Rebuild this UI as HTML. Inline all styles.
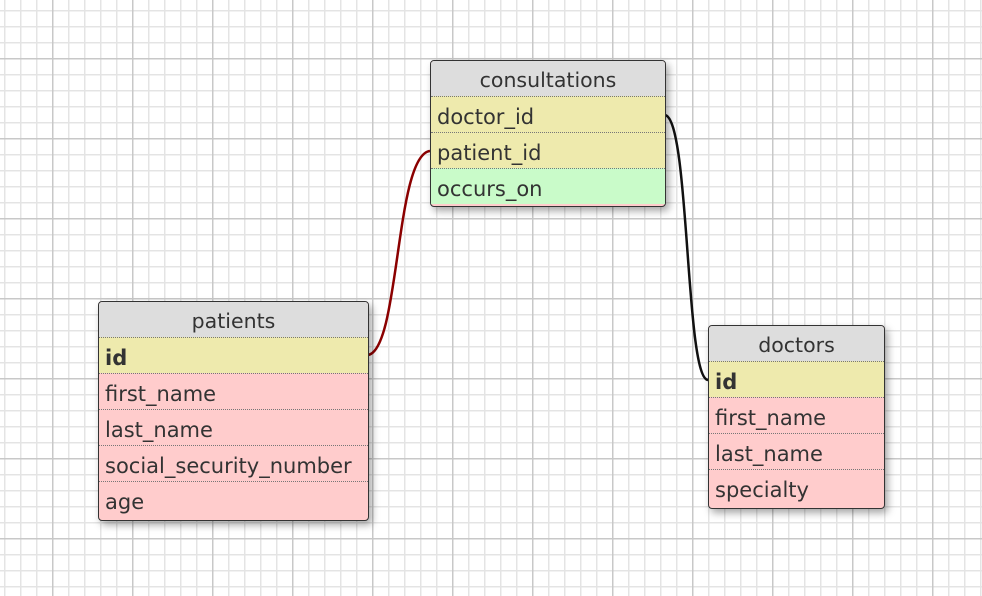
<!DOCTYPE html>
<html><head><style>
body{margin:0;width:982px;height:596px;overflow:hidden;background:#fff;
background-image:
linear-gradient(to right,#c8c8c8 1.5px,transparent 1.5px),
linear-gradient(to bottom,#c8c8c8 1.5px,transparent 1.5px),
linear-gradient(to right,#e4e4e4 1.5px,transparent 1.5px),
linear-gradient(to bottom,#e4e4e4 1.5px,transparent 1.5px);
background-size:80px 80px,80px 80px,16px 16px,16px 16px;
background-position:52px 0,0 58px,4px 0,0 10px;
font-family:"DejaVu Sans","Liberation Sans",sans-serif;position:relative}
.t{position:absolute;border:1px solid #333;border-radius:4px;box-shadow:3px 4px 8px rgba(0,0,0,.35);overflow:hidden;background:#fcc}
.t div{height:36px;line-height:40px;font-size:21px;color:#333;padding-left:6px;border-top:1px dotted #777;box-sizing:border-box;white-space:nowrap}
.t .h{background:#ddd;text-align:center;padding:0;border-top:none;height:35px;line-height:38px;font-size:20.5px}
.y{background:#eeeaad}.g{background:#c9fbc9}.r{background:#fcc}
b{font-weight:bold}
svg{position:absolute;left:0;top:0}
</style></head><body>
<svg width="982" height="596">
<path d="M368,355 C400,350 395,155 430,151" stroke="#8b0000" stroke-width="2.5" fill="none"/>
<path d="M665,115 C690,120 685,378 708,380" stroke="#111" stroke-width="2.5" fill="none"/>
</svg>
<div class="t" style="left:430px;top:60px;width:234px;height:145px">
<div class="h">consultations</div><div class="y">doctor_id</div><div class="y">patient_id</div><div class="g">occurs_on</div></div>
<div class="t" style="left:98px;top:301px;width:269px;height:218px">
<div class="h">patients</div><div class="y"><b>id</b></div><div class="r">first_name</div><div class="r">last_name</div><div class="r">social_security_number</div><div class="r">age</div></div>
<div class="t" style="left:708px;top:325px;width:175px;height:182px">
<div class="h">doctors</div><div class="y"><b>id</b></div><div class="r">first_name</div><div class="r">last_name</div><div class="r">specialty</div></div>
</body></html>
